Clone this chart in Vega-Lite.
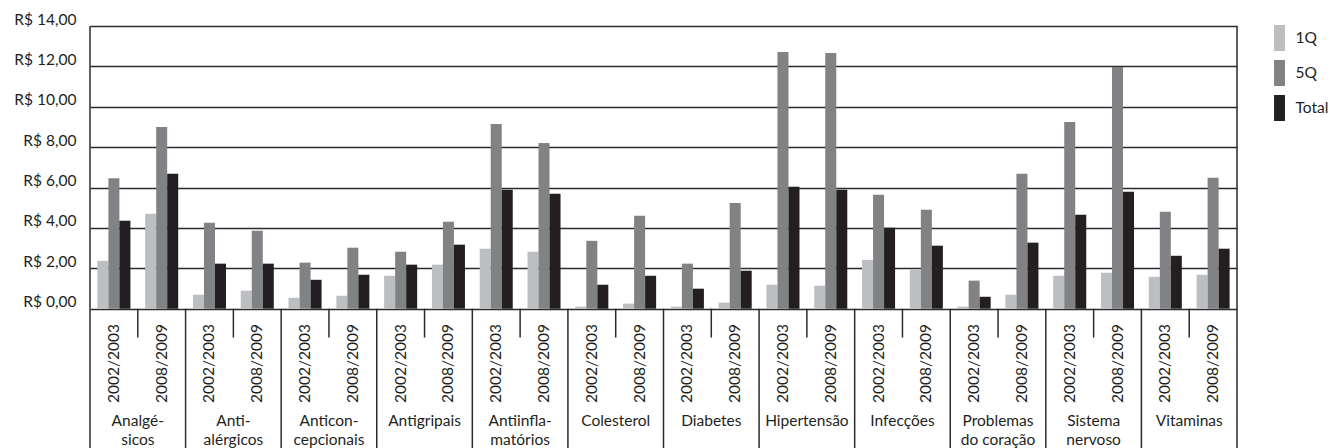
{
  "$schema": "https://vega.github.io/schema/vega-lite/v6.json",
  "width": 1147,
  "height": 422,
  "autosize": "none",
  "padding": {"left": 90, "top": 26, "right": 97, "bottom": 0},
  "background": "white",
  "config": {
    "font": "Lato",
    "view": {"stroke": null},
    "axis": {"labelFont": "Lato", "labelColor": "#231f20"},
    "legend": {"labelFont": "Lato", "labelColor": "#231f20"}
  },
  "data": {
    "values": [
      {"cat": "Analgé-\nsicos", "ano": "2002/2003", "serie": "1Q", "valor": 2.37},
      {"cat": "Analgé-\nsicos", "ano": "2002/2003", "serie": "5Q", "valor": 6.46},
      {"cat": "Analgé-\nsicos", "ano": "2002/2003", "serie": "Total", "valor": 4.35},
      {"cat": "Analgé-\nsicos", "ano": "2008/2009", "serie": "1Q", "valor": 4.70},
      {"cat": "Analgé-\nsicos", "ano": "2008/2009", "serie": "5Q", "valor": 9.00},
      {"cat": "Analgé-\nsicos", "ano": "2008/2009", "serie": "Total", "valor": 6.68},
      {"cat": "Anti-\nalérgicos", "ano": "2002/2003", "serie": "1Q", "valor": 0.69},
      {"cat": "Anti-\nalérgicos", "ano": "2002/2003", "serie": "5Q", "valor": 4.25},
      {"cat": "Anti-\nalérgicos", "ano": "2002/2003", "serie": "Total", "valor": 2.23},
      {"cat": "Anti-\nalérgicos", "ano": "2008/2009", "serie": "1Q", "valor": 0.89},
      {"cat": "Anti-\nalérgicos", "ano": "2008/2009", "serie": "5Q", "valor": 3.86},
      {"cat": "Anti-\nalérgicos", "ano": "2008/2009", "serie": "Total", "valor": 2.23},
      {"cat": "Anticon-\ncepcionais", "ano": "2002/2003", "serie": "1Q", "valor": 0.54},
      {"cat": "Anticon-\ncepcionais", "ano": "2002/2003", "serie": "5Q", "valor": 2.28},
      {"cat": "Anticon-\ncepcionais", "ano": "2002/2003", "serie": "Total", "valor": 1.43},
      {"cat": "Anticon-\ncepcionais", "ano": "2008/2009", "serie": "1Q", "valor": 0.64},
      {"cat": "Anticon-\ncepcionais", "ano": "2008/2009", "serie": "5Q", "valor": 3.02},
      {"cat": "Anticon-\ncepcionais", "ano": "2008/2009", "serie": "Total", "valor": 1.68},
      {"cat": "Antigripais", "ano": "2002/2003", "serie": "1Q", "valor": 1.63},
      {"cat": "Antigripais", "ano": "2002/2003", "serie": "5Q", "valor": 2.82},
      {"cat": "Antigripais", "ano": "2002/2003", "serie": "Total", "valor": 2.18},
      {"cat": "Antigripais", "ano": "2008/2009", "serie": "1Q", "valor": 2.18},
      {"cat": "Antigripais", "ano": "2008/2009", "serie": "5Q", "valor": 4.30},
      {"cat": "Antigripais", "ano": "2008/2009", "serie": "Total", "valor": 3.17},
      {"cat": "Antiinfla-\nmatórios", "ano": "2002/2003", "serie": "1Q", "valor": 2.97},
      {"cat": "Antiinfla-\nmatórios", "ano": "2002/2003", "serie": "5Q", "valor": 9.15},
      {"cat": "Antiinfla-\nmatórios", "ano": "2002/2003", "serie": "Total", "valor": 5.89},
      {"cat": "Antiinfla-\nmatórios", "ano": "2008/2009", "serie": "1Q", "valor": 2.82},
      {"cat": "Antiinfla-\nmatórios", "ano": "2008/2009", "serie": "5Q", "valor": 8.21},
      {"cat": "Antiinfla-\nmatórios", "ano": "2008/2009", "serie": "Total", "valor": 5.69},
      {"cat": "Colesterol", "ano": "2002/2003", "serie": "1Q", "valor": 0.10},
      {"cat": "Colesterol", "ano": "2002/2003", "serie": "5Q", "valor": 3.36},
      {"cat": "Colesterol", "ano": "2002/2003", "serie": "Total", "valor": 1.19},
      {"cat": "Colesterol", "ano": "2008/2009", "serie": "1Q", "valor": 0.25},
      {"cat": "Colesterol", "ano": "2008/2009", "serie": "5Q", "valor": 4.60},
      {"cat": "Colesterol", "ano": "2008/2009", "serie": "Total", "valor": 1.63},
      {"cat": "Diabetes", "ano": "2002/2003", "serie": "1Q", "valor": 0.10},
      {"cat": "Diabetes", "ano": "2002/2003", "serie": "5Q", "valor": 2.23},
      {"cat": "Diabetes", "ano": "2002/2003", "serie": "Total", "valor": 0.99},
      {"cat": "Diabetes", "ano": "2008/2009", "serie": "1Q", "valor": 0.30},
      {"cat": "Diabetes", "ano": "2008/2009", "serie": "5Q", "valor": 5.24},
      {"cat": "Diabetes", "ano": "2008/2009", "serie": "Total", "valor": 1.88},
      {"cat": "Hipertensão", "ano": "2002/2003", "serie": "1Q", "valor": 1.19},
      {"cat": "Hipertensão", "ano": "2002/2003", "serie": "5Q", "valor": 12.71},
      {"cat": "Hipertensão", "ano": "2002/2003", "serie": "Total", "valor": 6.04},
      {"cat": "Hipertensão", "ano": "2008/2009", "serie": "1Q", "valor": 1.14},
      {"cat": "Hipertensão", "ano": "2008/2009", "serie": "5Q", "valor": 12.66},
      {"cat": "Hipertensão", "ano": "2008/2009", "serie": "Total", "valor": 5.89},
      {"cat": "Infecções", "ano": "2002/2003", "serie": "1Q", "valor": 2.42},
      {"cat": "Infecções", "ano": "2002/2003", "serie": "5Q", "valor": 5.64},
      {"cat": "Infecções", "ano": "2002/2003", "serie": "Total", "valor": 4.01},
      {"cat": "Infecções", "ano": "2008/2009", "serie": "1Q", "valor": 1.93},
      {"cat": "Infecções", "ano": "2008/2009", "serie": "5Q", "valor": 4.90},
      {"cat": "Infecções", "ano": "2008/2009", "serie": "Total", "valor": 3.12},
      {"cat": "Problemas\ndo coração", "ano": "2002/2003", "serie": "1Q", "valor": 0.10},
      {"cat": "Problemas\ndo coração", "ano": "2002/2003", "serie": "5Q", "valor": 1.39},
      {"cat": "Problemas\ndo coração", "ano": "2002/2003", "serie": "Total", "valor": 0.59},
      {"cat": "Problemas\ndo coração", "ano": "2008/2009", "serie": "1Q", "valor": 0.69},
      {"cat": "Problemas\ndo coração", "ano": "2008/2009", "serie": "5Q", "valor": 6.68},
      {"cat": "Problemas\ndo coração", "ano": "2008/2009", "serie": "Total", "valor": 3.27},
      {"cat": "Sistema\nnervoso", "ano": "2002/2003", "serie": "1Q", "valor": 1.63},
      {"cat": "Sistema\nnervoso", "ano": "2002/2003", "serie": "5Q", "valor": 9.25},
      {"cat": "Sistema\nnervoso", "ano": "2002/2003", "serie": "Total", "valor": 4.65},
      {"cat": "Sistema\nnervoso", "ano": "2008/2009", "serie": "1Q", "valor": 1.78},
      {"cat": "Sistema\nnervoso", "ano": "2008/2009", "serie": "5Q", "valor": 11.97},
      {"cat": "Sistema\nnervoso", "ano": "2008/2009", "serie": "Total", "valor": 5.79},
      {"cat": "Vitaminas", "ano": "2002/2003", "serie": "1Q", "valor": 1.58},
      {"cat": "Vitaminas", "ano": "2002/2003", "serie": "5Q", "valor": 4.80},
      {"cat": "Vitaminas", "ano": "2002/2003", "serie": "Total", "valor": 2.62},
      {"cat": "Vitaminas", "ano": "2008/2009", "serie": "1Q", "valor": 1.68},
      {"cat": "Vitaminas", "ano": "2008/2009", "serie": "5Q", "valor": 6.48},
      {"cat": "Vitaminas", "ano": "2008/2009", "serie": "Total", "valor": 2.97}
    ]
  },
  "transform": [
    {"calculate": "datum.cat + '|' + datum.ano", "as": "coluna"}
  ],
  "layer": [
    {
      "mark": {"type": "bar", "clip": false},
      "encoding": {
        "x": {
          "field": "coluna", "type": "nominal", "sort": null,
          "scale": {"paddingInner": 0, "paddingOuter": 0},
          "axis": null
        },
        "xOffset": {
          "field": "serie", "type": "nominal",
          "scale": {"domain": ["1Q", "5Q", "Total"], "paddingInner": 0, "paddingOuter": 0.67}
        },
        "y": {
          "field": "valor", "type": "quantitative",
          "scale": {"domain": [-6.9, 14], "nice": false, "zero": false},
          "axis": {
            "values": [0, 2, 4, 6, 8, 10, 12, 14],
            "title": null,
            "domain": false,
            "ticks": false,
            "grid": true,
            "gridColor": "#2b2b2b",
            "gridWidth": 1.5,
            "gridOpacity": 1,
            "labelFontSize": 15.5,
            "labelPadding": 14,
            "labelOffset": -7,
            "labelExpr": "'R$ ' + replace(format(datum.value, '.2f'), '.', ',')"
          }
        },
        "y2": {"datum": 0},
        "color": {
          "field": "serie", "type": "nominal",
          "scale": {"domain": ["1Q", "5Q", "Total"], "range": ["#bcbec0", "#808285", "#231f20"]},
          "legend": {
            "title": null,
            "orient": "none",
            "legendX": 1176.5,
            "legendY": -1,
            "padding": 0,
            "symbolType": "M-0.42,-1H0.42V1H-0.42Z",
            "symbolSize": 676,
            "symbolStrokeWidth": 0,
            "rowPadding": 9,
            "labelFontSize": 15.5,
            "labelOffset": 3
          }
        }
      }
    },
    {
      "transform": [{"filter": "datum.ano === '2002/2003' && datum.serie === '1Q'"}],
      "mark": {"type": "rule", "color": "#2b2b2b", "strokeWidth": 1.5},
      "encoding": {
        "x": {"field": "coluna", "type": "nominal", "sort": null, "bandPosition": 0},
        "y": {"datum": 0},
        "y2": {"datum": -6.9}
      }
    },
    {
      "transform": [{"filter": "datum.ano === '2008/2009' && datum.serie === '1Q'"}],
      "mark": {"type": "rule", "color": "#2b2b2b", "strokeWidth": 1.5},
      "encoding": {
        "x": {"field": "coluna", "type": "nominal", "sort": null, "bandPosition": 0},
        "y": {"datum": 0},
        "y2": {"datum": -1.43}
      }
    },
    {
      "transform": [{"filter": "indexof(datum.cat, 'Analg') === 0 && datum.ano === '2002/2003' && datum.serie === '1Q'"}],
      "mark": {"type": "rule", "color": "#2b2b2b", "strokeWidth": 1.5},
      "encoding": {
        "x": {"field": "coluna", "type": "nominal", "sort": null, "bandPosition": 0},
        "y": {"datum": 14},
        "y2": {"datum": 0}
      }
    },
    {
      "transform": [{"filter": "datum.cat === 'Vitaminas' && datum.ano === '2008/2009' && datum.serie === '1Q'"}],
      "mark": {"type": "rule", "color": "#2b2b2b", "strokeWidth": 1.5},
      "encoding": {
        "x": {"field": "coluna", "type": "nominal", "sort": null, "bandPosition": 1},
        "y": {"datum": 14},
        "y2": {"datum": -6.9}
      }
    },
    {
      "transform": [{"filter": "datum.serie === '1Q'"}],
      "mark": {"type": "text", "angle": 270, "align": "right", "baseline": "middle", "fontSize": 15.5, "color": "#231f20"},
      "encoding": {
        "x": {"field": "coluna", "type": "nominal", "sort": null},
        "y": {"datum": -0.76},
        "text": {"field": "ano"}
      }
    },
    {
      "transform": [{"filter": "datum.ano === '2008/2009' && datum.serie === '1Q'"}],
      "mark": {"type": "text", "align": "center", "baseline": "top", "fontSize": 15.5, "lineBreak": "\n", "lineHeight": 19, "color": "#231f20"},
      "encoding": {
        "x": {"field": "coluna", "type": "nominal", "sort": null, "bandPosition": 0},
        "y": {"datum": -5.24},
        "text": {"field": "cat"}
      }
    }
  ]
}
